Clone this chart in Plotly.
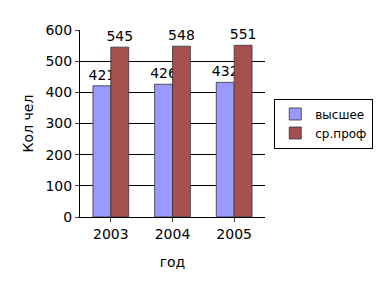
import plotly.graph_objects as go

years = ["2003", "2004", "2005"]
higher = [421, 426, 432]
secondary = [545, 548, 551]
series_names = ["высшее", "ср.проф"]

fig = go.Figure()
fig.add_trace(go.Bar(
    x=years, y=higher, name=series_names[0],
    marker=dict(color="#9999FF", line=dict(color="#333333", width=0.8)),
    text=[str(v) for v in higher], textposition="outside", cliponaxis=False,
    textfont=dict(size=14, color="black", family="DejaVu Sans"),
))
fig.add_trace(go.Bar(
    x=years, y=secondary, name=series_names[1],
    marker=dict(color="#A5504F", line=dict(color="#333333", width=0.8)),
    text=[str(v) for v in secondary], textposition="outside", cliponaxis=False,
    textfont=dict(size=14, color="black", family="DejaVu Sans"),
))

fig.update_layout(
    width=381, height=292,
    margin=dict(l=80, r=116, t=30, b=75, autoexpand=False),
    paper_bgcolor="white", plot_bgcolor="white",
    barmode="group", bargap=0.42, bargroupgap=0,
    uniformtext=dict(minsize=14, mode="show"),
    font=dict(family="DejaVu Sans", size=14, color="black"),
    showlegend=True,
    legend=dict(x=1.05, y=0.5, xanchor="left", yanchor="middle",
                bordercolor="black", borderwidth=1, bgcolor="white",
                font=dict(size=12), itemwidth=30, tracegroupgap=0),
    xaxis=dict(showline=True, linecolor="black", ticks="outside", ticklen=4,
               tickfont=dict(size=14),
               title=dict(text="год", font=dict(size=14), standoff=16)),
    yaxis=dict(range=[0, 600], dtick=100, showline=True, linecolor="black",
               ticks="outside", ticklen=4, showgrid=True, gridcolor="black",
               gridwidth=0.6, zeroline=False, tickfont=dict(size=14),
               title=dict(text="Кол чел", font=dict(size=14), standoff=8)),
)

fig.write_html("out.html")
